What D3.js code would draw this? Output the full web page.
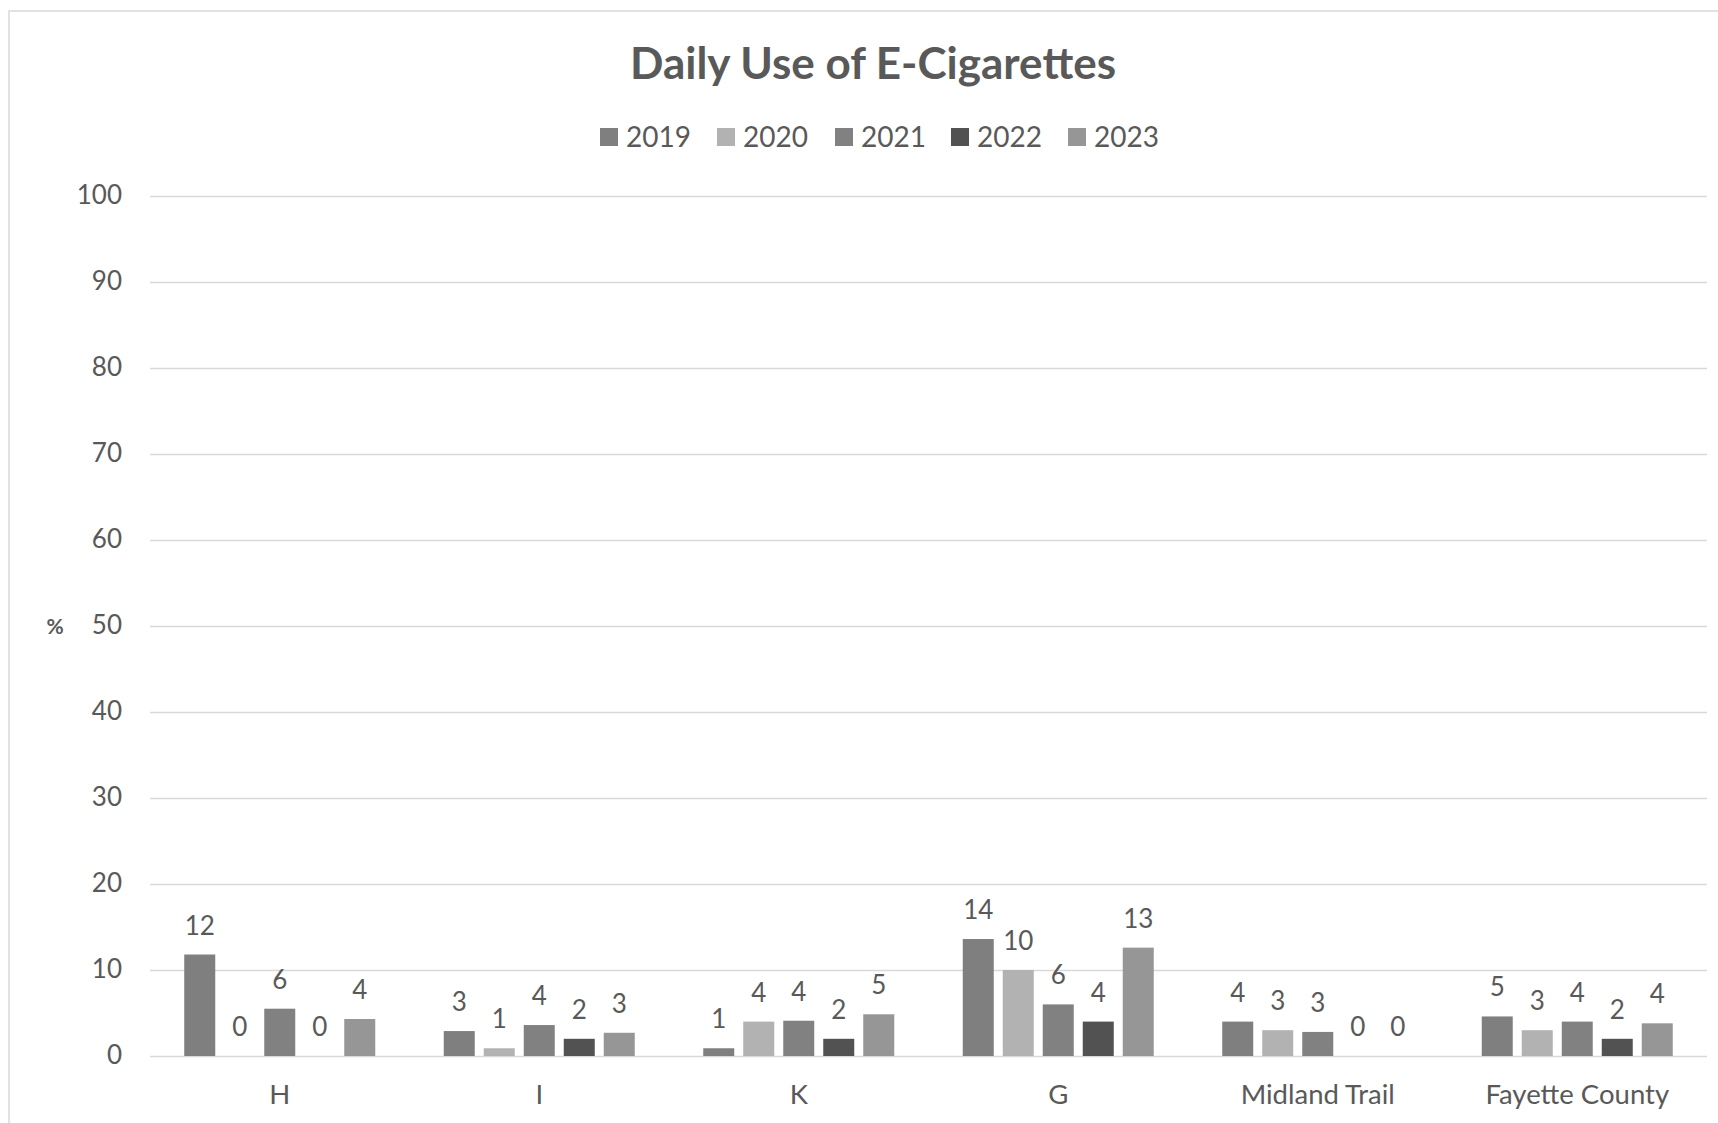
<!DOCTYPE html>
<html>
<head>
<meta charset="utf-8">
<script src="https://cdn.jsdelivr.net/npm/d3@7"></script>
<style>
  html, body { margin: 0; padding: 0; background: #fff; }
  svg { display: block; font-family: Lato, "Open Sans", sans-serif; }
</style>
</head>
<body>
<svg id="chart" width="1718" height="1123"></svg>
<script>
const title = "Daily Use of E-Cigarettes";
const categories = ["H", "I", "K", "G", "Midland Trail", "Fayette County"];
const seriesNames = ["2019", "2020", "2021", "2022", "2023"];
const v2019 = [11.8, 2.9, 0.9, 13.6, 4.0, 4.6];
const v2020 = [0, 0.9, 4.0, 10.0, 3.0, 3.0];
const v2021 = [5.5, 3.6, 4.1, 6.0, 2.8, 4.0];
const v2022 = [0, 2.0, 2.0, 4.0, 0, 2.0];
const v2023 = [4.3, 2.7, 4.85, 12.6, 0, 3.8];
const yTicks = [0, 10, 20, 30, 40, 50, 60, 70, 80, 90, 100];
const yLabel = "%";
const colors = ["#7f7f7f", "#b2b2b2", "#818181", "#525252", "#969696"];

const seriesValues = [v2019, v2020, v2021, v2022, v2023];
const textColor = "#595959";

const svg = d3.select("#chart");

// chart border
svg.append("rect")
  .attr("x", 9).attr("y", 11).attr("width", 1800).attr("height", 1200)
  .attr("fill", "none").attr("stroke", "#d9d9d9").attr("stroke-width", 1.5);

const plot = { left: 150, right: 1707, top: 196, bottom: 1056 };

const y = d3.scaleLinear().domain([0, 100]).range([plot.bottom, plot.top]);
const x0 = d3.scaleBand().domain(categories).range([plot.left, plot.right]).padding(0);
const x1 = d3.scaleBand().domain(seriesNames).range([0, x0.bandwidth()])
  .paddingInner(0.225).paddingOuter(0.856);

// gridlines
svg.append("g").selectAll("line").data(yTicks).join("line")
  .attr("x1", plot.left).attr("x2", plot.right)
  .attr("y1", d => Math.round(y(d)) + 0.5).attr("y2", d => Math.round(y(d)) + 0.5)
  .attr("stroke", "#d9d9d9").attr("stroke-width", 1.5);

// y axis via d3 axis (labels only)
const yAxis = d3.axisLeft(y).tickValues(yTicks).tickSize(0).tickPadding(0);
const yg = svg.append("g").attr("transform", `translate(${122},0)`).call(yAxis);
yg.select(".domain").remove();
yg.selectAll("text")
  .attr("fill", textColor).attr("font-size", 26)
  .attr("font-family", "Lato, 'Open Sans', sans-serif")
  .attr("dy", "0.3em");

// x axis labels
const xAxis = d3.axisBottom(x0).tickSize(0).tickPadding(0);
const xg = svg.append("g").attr("transform", `translate(0,${plot.bottom})`).call(xAxis);
xg.select(".domain").remove();
xg.selectAll("text")
  .attr("fill", textColor).attr("font-size", 27.5)
  .attr("font-family", "Lato, 'Open Sans', sans-serif")
  .attr("dy", null).attr("y", 48);

// bars
const groups = svg.append("g").selectAll("g").data(categories).join("g")
  .attr("transform", d => `translate(${x0(d)},0)`);

groups.selectAll("rect").data((c, ci) => seriesNames.map((s, si) => ({ s, si, v: seriesValues[si][ci] })))
  .join("rect")
  .attr("x", d => x1(d.s))
  .attr("width", x1.bandwidth())
  .attr("y", d => y(d.v))
  .attr("height", d => plot.bottom - y(d.v))
  .attr("fill", d => colors[d.si]);

groups.selectAll("text").data((c, ci) => seriesNames.map((s, si) => ({ s, si, v: seriesValues[si][ci] })))
  .join("text")
  .attr("x", d => x1(d.s) + x1.bandwidth() / 2)
  .attr("y", d => y(d.v) - 20)
  .attr("text-anchor", "middle")
  .attr("font-size", 26)
  .attr("fill", textColor)
  .text(d => Math.round(d.v));

// y label
svg.append("text").attr("x", 55).attr("y", 634).attr("text-anchor", "middle")
  .attr("font-size", 21).attr("font-weight", "bold").attr("fill", textColor).text(yLabel);

// title
svg.append("text").attr("x", 873).attr("y", 79).attr("text-anchor", "middle")
  .attr("font-size", 44).attr("font-weight", "bold").attr("fill", textColor).text(title);

// legend
const legendX = [600, 717, 835, 951, 1068];
const lg = svg.append("g").selectAll("g").data(seriesNames).join("g")
  .attr("transform", (d, i) => `translate(${legendX[i]},128)`);
lg.append("rect").attr("width", 18).attr("height", 18).attr("fill", (d, i) => colors[i]);
lg.append("text").attr("x", 26).attr("y", 19).attr("font-size", 28).attr("fill", textColor).text(d => d);
</script>
</body>
</html>
